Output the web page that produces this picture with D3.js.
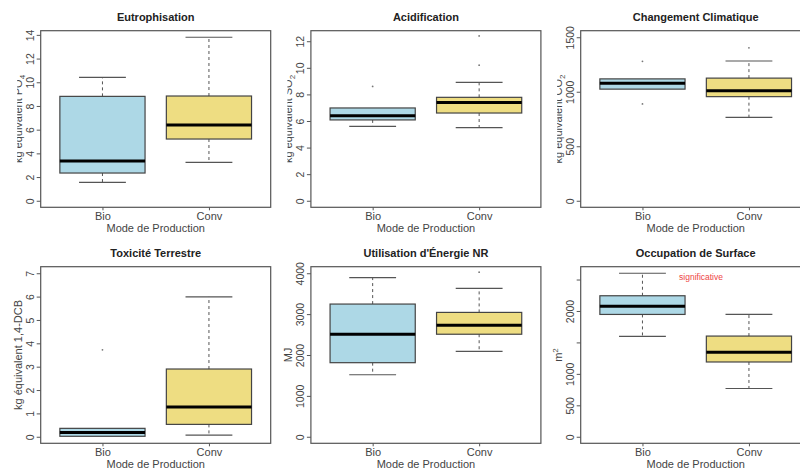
<!DOCTYPE html>
<html><head><meta charset="utf-8">
<script src="https://cdn.jsdelivr.net/npm/d3@7"></script>
<style>body{margin:0;background:#fff}svg{display:block}text{font-family:"Liberation Sans",Arial,sans-serif}</style>
</head><body><svg id="c" width="800" height="470"></svg>
<script>
// ---- data ----
const groups = ["Bio", "Conv"];
const titles = ["Eutrophisation", "Acidification", "Changement Climatique", "Toxicité Terrestre", "Utilisation d'Énergie NR", "Occupation de Surface"];
const yLabels = [["kg équivalent PO", "4"], ["kg équivalent SO", "2"], ["kg équivalent CO", "2"], ["kg équivalent 1,4-DCB", ""], ["MJ", ""], ["m", "2"]];
const xLabel = "Mode de Production";
// [lower whisker, Q1, median, Q3, upper whisker]
const bioStats = [
  [1.55, 2.34, 3.35, 8.81, 10.41],
  [5.6, 6.08, 6.40, 6.98, 6.98],
  [1024, 1024, 1079, 1118, 1118],
  [0.02, 0.02, 0.18, 0.36, 0.36],
  [1517, 1812, 2508, 3246, 3893],
  [1597, 1945, 2077, 2242, 2600]
];
const convStats = [
  [3.24, 5.21, 6.39, 8.84, 13.8],
  [5.5, 6.6, 7.4, 7.78, 8.91],
  [764, 955, 1009, 1125, 1282],
  [0.07, 0.53, 1.27, 2.9, 5.99],
  [2090, 2508, 2729, 3042, 3632],
  [767, 1189, 1343, 1601, 1945]
];
const bioOutliers = [[], [8.6], [1279, 888], [3.72], [], []];
const convOutliers = [[], [12.4, 10.2], [1403], [], [4025], []];
const yMax = [13.8, 12.3, 1500, 7, 4000, 2600];
const yTicks = [
  [0, 2, 4, 6, 8, 10, 12, 14],
  [0, 2, 4, 6, 8, 10, 12],
  [0, 500, 1000, 1500],
  [0, 1, 2, 3, 4, 5, 6, 7],
  [0, 1000, 2000, 3000, 4000],
  [0, 500, 1000, 1500, 2000, 2500]
];
const yTickLabels = [
  ["0", "2", "4", "6", "8", "10", "12", "14"],
  ["0", "2", "4", "6", "8", "10", "12"],
  ["0", "500", "1000", "1500"],
  ["0", "1", "2", "3", "4", "5", "6", "7"],
  ["0", "1000", "2000", "3000", "4000"],
  ["0", "500", "1000", "", "2000", ""]
];
const annotation = {panel: 5, text: "significative", x: 1.55, y: 2490};
const fills = ["#add8e6", "#eedd82"];

// ---- layout ----
const svg = d3.select("#c");
const lefts = [40.7, 310.9, 580.7];
const tops = [30.7, 266.7];
const pw = 230, ph = 176.6;

titles.forEach((title, i) => {
  const col = i % 3, row = Math.floor(i / 3);
  const L = lefts[col], T = tops[row];
  const M = yMax[i];
  const x = d3.scaleLinear().domain([0.42, 2.58]).range([L, L + pw]);
  const y = d3.scaleLinear().domain([-0.04 * M, 1.04 * M]).range([T + ph, T]);
  const g = svg.append("g");

  // frame
  g.append("rect").attr("x", L).attr("y", T).attr("width", pw).attr("height", ph)
    .attr("fill", "none").attr("stroke", "#555").attr("stroke-width", 1.2);

  // y axis
  const yAxis = d3.axisLeft(y).tickValues(yTicks[i]).tickSize(4).tickPadding(0)
    .tickFormat((d, k) => yTickLabels[i][k]);
  const ya = g.append("g").attr("transform", `translate(${L},0)`).call(yAxis);
  ya.select(".domain").attr("stroke", "none");
  ya.selectAll(".tick line").attr("stroke", "#555");
  ya.selectAll(".tick text").attr("fill", "#444").attr("font-size", 10.5)
    .attr("text-anchor", "middle").attr("dy", null)
    .attr("transform", `translate(-7,0) rotate(-90)`).attr("x", 0).attr("y", 0);

  // x axis
  const xAxis = d3.axisBottom(x).tickValues([1, 2]).tickSize(3).tickPadding(2)
    .tickFormat((d, k) => groups[k]);
  const xa = g.append("g").attr("transform", `translate(0,${T + ph})`).call(xAxis);
  xa.select(".domain").remove();
  xa.selectAll(".tick line").attr("stroke", "#555");
  xa.selectAll(".tick text").attr("fill", "#444").attr("font-size", 11);

  // x label
  g.append("text").attr("x", L + pw / 2).attr("y", T + ph + 25)
    .attr("text-anchor", "middle").attr("font-size", 11).attr("fill", "#444").text(xLabel);

  // title
  g.append("text").attr("x", L + pw / 2).attr("y", T - 10)
    .attr("text-anchor", "middle").attr("font-size", 11).attr("font-weight", "bold")
    .attr("fill", "#222").text(title);

  // y label (partially clipped like the reference)
  const clipId = "clip" + i;
  const clipX = (row === 0) ? L - 23.5 : L - 40;
  svg.append("clipPath").attr("id", clipId).append("rect")
    .attr("x", clipX).attr("y", T - 5).attr("width", 40).attr("height", ph + 10);
  const yg = g.append("g").attr("clip-path", `url(#${clipId})`);
  const yl = yg.append("text")
    .attr("transform", `translate(${L - 19},${T + ph / 2}) rotate(-90)`)
    .attr("text-anchor", "middle").attr("font-size", 11).attr("fill", "#444");
  yl.append("tspan").text(yLabels[i][0]);
  if (yLabels[i][1]) {
    const sup = yLabels[i][0] === "m";
    yl.append("tspan").attr("font-size", 8).attr("dy", sup ? -4 : 3).text(yLabels[i][1]);
  }

  // boxes
  [bioStats[i], convStats[i]].forEach((s, k) => {
    const cx = k + 1;
    const [lw, q1, md, q3, uw] = s;
    const bg = g.append("g");
    if (uw > q3) bg.append("line").attr("x1", x(cx)).attr("x2", x(cx)).attr("y1", y(q3)).attr("y2", y(uw))
      .attr("stroke", "#555").attr("stroke-dasharray", "3,3");
    if (lw < q1) bg.append("line").attr("x1", x(cx)).attr("x2", x(cx)).attr("y1", y(q1)).attr("y2", y(lw))
      .attr("stroke", "#555").attr("stroke-dasharray", "3,3");
    if (uw > q3) bg.append("line").attr("x1", x(cx - 0.22)).attr("x2", x(cx + 0.22)).attr("y1", y(uw)).attr("y2", y(uw))
      .attr("stroke", "#555").attr("stroke-width", 1.2);
    if (lw < q1) bg.append("line").attr("x1", x(cx - 0.22)).attr("x2", x(cx + 0.22)).attr("y1", y(lw)).attr("y2", y(lw))
      .attr("stroke", "#555").attr("stroke-width", 1.2);
    bg.append("rect").attr("x", x(cx - 0.4)).attr("width", x(cx + 0.4) - x(cx - 0.4))
      .attr("y", y(q3)).attr("height", y(q1) - y(q3))
      .attr("fill", fills[k]).attr("stroke", "#444").attr("stroke-width", 1.2);
    bg.append("line").attr("x1", x(cx - 0.4)).attr("x2", x(cx + 0.4)).attr("y1", y(md)).attr("y2", y(md))
      .attr("stroke", "#000").attr("stroke-width", 3);
    const outs = k === 0 ? bioOutliers[i] : convOutliers[i];
    outs.forEach(v => bg.append("circle").attr("cx", x(cx)).attr("cy", y(v)).attr("r", 0.9).attr("fill", "#777"));
  });

  if (annotation.panel === i) {
    g.append("text").attr("x", x(annotation.x)).attr("y", y(annotation.y))
      .attr("text-anchor", "middle").attr("font-size", 8.5).attr("fill", "#ee4444")
      .text(annotation.text);
  }
});
</script></body></html>
